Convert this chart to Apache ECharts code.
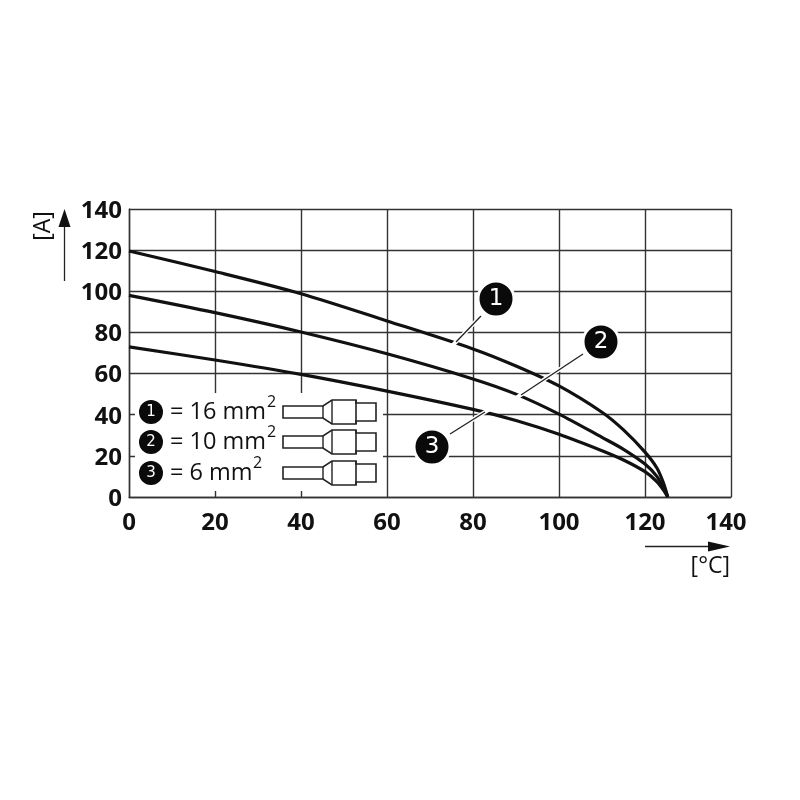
<!DOCTYPE html>
<html>
<head>
<meta charset="utf-8">
<style>html,body{margin:0;padding:0;background:#fff}#chart{width:800px;height:800px}</style>
<script src="https://cdn.jsdelivr.net/npm/echarts@6/dist/echarts.min.js"></script>
</head>
<body>
<div id="chart"></div>
<script>
// Derating curves: ambient temperature [°C] against rated current [A]
const temperatures = [0, 20, 40, 60, 80, 90, 100, 110, 115, 120, 122.8, 124.3, 125.3];
const current16mm2 = [119.6, 109.6, 98.8, 85.6, 72, 63.7, 54, 41.2, 32.6, 21.8, 14, 6.8, 0];
const current10mm2 = [98, 89.6, 80.2, 69.6, 57.4, 50, 40.3, 29, 23.2, 16, 9.9, 4.3, 0];
const current6mm2 = [73, 66.6, 59.6, 51.5, 42.6, 37.2, 30.5, 22.5, 18, 12.3, 7.4, 3.4, 0];
const axisTicks = [0, 20, 40, 60, 80, 100, 120, 140];
const legendRows = ['16', '10', '6'];

const INK = '#111';
const GRIDLINE = '#333';

const pairs = (ys) => temperatures.map((t, i) => [t, ys[i]]);

const curve = (name, ys) => ({
  name, type: 'line', data: pairs(ys), showSymbol: false, symbol: 'none',
  smooth: 0.3, z: 2,
  lineStyle: { color: INK, width: 3.2, cap: 'butt' }, animation: false
});

// Numbered disc with a white ring that clears the grid around it
const disc = (cx, cy, r, n, size, ring) => ([
  { type: 'circle', z: 4, shape: { cx, cy, r }, style: { fill: '#0a0a0a', stroke: '#fff', lineWidth: ring } },
  { type: 'text', z: 5, style: { text: n, x: cx, y: cy + 0.5, fill: '#fff', fontFamily: 'DejaVu Sans', fontSize: size, textAlign: 'center', textVerticalAlign: 'middle' } }
]);

// Leader line: white halo cuts through the curves, dark hairline sits on top
const leader = (x1, y1, x2, y2, hx, hy) => ([
  { type: 'line', z: 3, shape: { x1, y1, x2: hx, y2: hy }, style: { stroke: '#fff', lineWidth: 4 } },
  { type: 'line', z: 3, shape: { x1, y1, x2, y2 }, style: { stroke: '#222', lineWidth: 1.3 } }
]);

// Ferrule pictogram used in the cross-section key
const ferrule = (dy) => {
  const s = { fill: '#fff', stroke: '#222', lineWidth: 1.6 };
  const pts = (a) => a.map(([x, y]) => [x, y + dy]);
  return [
    { type: 'polygon', z: 2, shape: { points: pts([[283, 406], [323, 406], [332, 400], [356, 400], [356, 403], [376, 403], [376, 421], [356, 421], [356, 424], [332, 424], [323, 418], [283, 418]]) }, style: s },
    { type: 'line', z: 2, shape: { x1: 323, y1: 406 + dy, x2: 323, y2: 418 + dy }, style: { stroke: '#222', lineWidth: 1.4 } },
    { type: 'line', z: 2, shape: { x1: 332, y1: 400 + dy, x2: 332, y2: 424 + dy }, style: { stroke: '#222', lineWidth: 1.4 } },
    { type: 'line', z: 2, shape: { x1: 356, y1: 400 + dy, x2: 356, y2: 424 + dy }, style: { stroke: '#222', lineWidth: 1.6 } }
  ];
};

const keyRow = (i, label, dy, supX) => ([
  ...disc(151, 412 + dy, 12, String(i + 1), 15, 0),
  { type: 'text', z: 2, style: { text: '= ' + label + ' mm', x: 170, y: 412.5 + dy, fill: INK, fontFamily: 'Open Sans', fontSize: 23.5, textAlign: 'left', textVerticalAlign: 'middle' } },
  { type: 'text', z: 2, style: { text: '2', x: supX, y: 402 + dy, fill: INK, fontFamily: 'Open Sans', fontSize: 16, textAlign: 'left', textVerticalAlign: 'middle' } },
  ...ferrule(dy)
]);

const rowOffsets = [0, 30, 61];
const superscriptX = [267, 267, 253];

const graphics = [
  // clear panel behind the key
  { type: 'rect', z: 1, shape: { x: 135, y: 393, width: 248, height: 98 }, style: { fill: '#fff' } },
  ...legendRows.flatMap((l, i) => keyRow(i, l, rowOffsets[i], superscriptX[i])),

  ...leader(481, 316, 456, 342, 452, 346),
  ...leader(583, 354, 521, 395, 516, 398),
  ...leader(450, 434, 485, 412, 489, 409.5),
  ...disc(496, 299, 18, '1', 23, 3),
  ...disc(601, 342, 18, '2', 23, 3),
  ...disc(432, 447, 18, '3', 23, 3),

  // axis direction arrows and unit labels
  { type: 'line', z: 2, shape: { x1: 64.5, y1: 281, x2: 64.5, y2: 222 }, style: { stroke: '#222', lineWidth: 1.3 } },
  { type: 'polygon', z: 2, shape: { points: [[64.5, 209], [70.5, 227], [58.5, 227]] }, style: { fill: INK } },
  { type: 'text', z: 2, x: 43, y: 226, rotation: Math.PI / 2, style: { text: '[A]', fill: INK, fontFamily: 'Open Sans', fontSize: 23, textAlign: 'center', textVerticalAlign: 'middle' } },
  { type: 'line', z: 2, shape: { x1: 645, y1: 546.5, x2: 712, y2: 546.5 }, style: { stroke: '#222', lineWidth: 1.3 } },
  { type: 'polygon', z: 2, shape: { points: [[730, 546.5], [708, 541.5], [708, 551.5]] }, style: { fill: INK } },
  { type: 'text', z: 2, style: { text: '[°C]', x: 730, y: 566.5, fill: INK, fontFamily: 'Open Sans', fontSize: 23, textAlign: 'right', textVerticalAlign: 'middle' } }
];

const axisBase = {
  type: 'value', min: axisTicks[0], max: axisTicks[axisTicks.length - 1], interval: 20,
  axisLine: { show: true, lineStyle: { color: GRIDLINE, width: 1.4 } },
  axisTick: { show: false },
  splitLine: { show: true, lineStyle: { color: GRIDLINE, width: 1.4 } }
};
const tickText = { color: INK, fontFamily: 'Open Sans', fontWeight: 'bold', fontSize: 24 };

const chart = echarts.init(document.getElementById('chart'), null, { renderer: 'canvas' });
chart.setOption({
  animation: false,
  backgroundColor: '#fff',
  grid: { left: 129, top: 209, width: 602, height: 288, containLabel: false },
  xAxis: {
    ...axisBase,
    axisLabel: {
      ...tickText, margin: 14, showMaxLabel: true, showMinLabel: true,
      // last label sits slightly inboard of its gridline
      formatter: (v) => (v === 140 ? '{last|140}' : String(v)),
      rich: { last: { ...tickText, padding: [0, 10, 0, 0] } }
    }
  },
  yAxis: {
    ...axisBase,
    axisLabel: {
      ...tickText, margin: 7, showMaxLabel: true, showMinLabel: true,
      // digits sit a little below the gridline centre
      formatter: (v) => '{num|' + v + '}',
      rich: { num: { ...tickText, padding: [4, 0, 0, 0] } }
    }
  },
  series: [
    curve('16 mm²', current16mm2),
    curve('10 mm²', current10mm2),
    curve('6 mm²', current6mm2)
  ],
  graphic: { elements: graphics }
});
</script>
</body>
</html>
